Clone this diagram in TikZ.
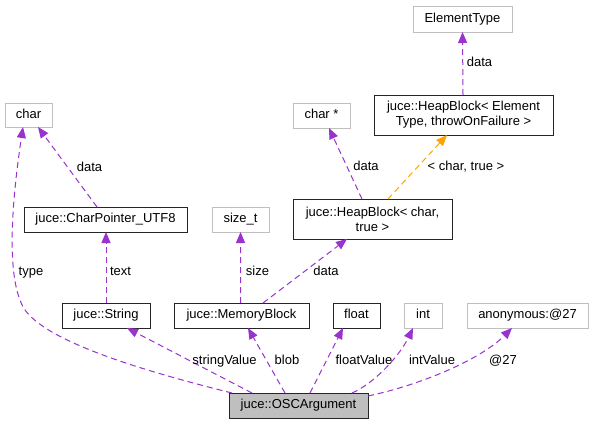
\documentclass[tikz,border=0pt]{standalone}
\usepackage{fontspec}
\setmainfont{Liberation Sans}
\usetikzlibrary{arrows.meta}
\definecolor{edgepurple}{HTML}{9A32CD}
\definecolor{edgeorange}{HTML}{FFA500}
\definecolor{boxgray}{HTML}{BFBFBF}
\begin{document}
\begin{tikzpicture}[x=1pt,y=-1pt,
  every node/.style={font=\fontsize{13}{15}\selectfont, inner sep=0pt, outer sep=0pt},
  cls/.style={draw=black!85, line width=1pt, fill=white, text height=9.4pt, text depth=2.7pt},
  cls2/.style={draw=black!85, line width=1pt, fill=white, align=center},
  ext/.style={draw=boxgray, line width=1pt, fill=white, text height=9.4pt, text depth=2.7pt},
  cur/.style={draw=black!85, line width=1pt, fill=boxgray, text height=9.4pt, text depth=2.7pt},
  lbl/.style={text height=10.4pt, text depth=1.7pt},
  edge/.style={draw=edgepurple, line width=1pt, dash pattern=on 6pt off 4pt,
    -{Triangle[length=11pt,width=9pt,fill=edgepurple]}},
  oedge/.style={draw=edgeorange, line width=1pt, dash pattern=on 6pt off 4pt,
    -{Triangle[length=11pt,width=9pt,fill=edgeorange]}}
]
\useasboundingbox[fill=white] (0,0) rectangle (593,424);

% nodes
\node[ext, minimum width=99pt, minimum height=26pt] (ET) at (462.5,19) {ElementType};
\node[cls2, minimum width=179pt, minimum height=40pt] (HBET) at (463.5,115) {juce::HeapBlock< Element\\Type, throwOnFailure >};
\node[ext, minimum width=57pt, minimum height=25pt] (charstar) at (321.5,115.5) {char *};
\node[cls2, minimum width=159pt, minimum height=40pt] (HBC) at (372.5,219) {juce::HeapBlock< char,\\true >};
\node[ext, minimum width=47pt, minimum height=24pt] (char) at (28.5,115) {char};
\node[cls, minimum width=163pt, minimum height=25pt] (CP) at (105.5,219.5) {juce::CharPointer\_UTF8};
\node[ext, minimum width=57pt, minimum height=25pt] (sizet) at (240.5,219.5) {size\_t};
\node[cls, minimum width=88pt, minimum height=25pt] (String) at (106,315.5) {juce::String};
\node[cls, minimum width=135pt, minimum height=25pt] (MB) at (241.5,315.5) {juce::MemoryBlock};
\node[cls, minimum width=47pt, minimum height=25pt] (float) at (356.5,315.5) {float};
\node[ext, minimum width=38pt, minimum height=25pt] (int) at (423,315.5) {int};
\node[ext, minimum width=121pt, minimum height=25pt] (anon) at (527.5,315.5) {anonymous:@27};
\node[cur, minimum width=139pt, minimum height=25pt] (OSC) at (298.5,405.5) {juce::OSCArgument};

% edges
\draw[edge] ([xshift=-66.5pt]OSC.north) .. controls (160,375) and (50,345) .. (25,310)
  .. controls (5,280) and (12,200) .. ([xshift=-5.5pt]char.south);
\draw[edge] ([xshift=-46.5pt]OSC.north) -- ([xshift=21pt]String.south);
\draw[edge] ([xshift=-13.5pt]OSC.north) -- ([xshift=6.5pt]MB.south);
\draw[edge] ([xshift=11.5pt]OSC.north) -- ([xshift=-13.5pt]float.south);
\draw[edge] ([xshift=53.5pt]OSC.north) .. controls (375,383) and (400,355) .. ([xshift=-10pt]int.south);
\draw[edge] ([yshift=-3pt]OSC.north east) .. controls (420,385) and (480,360) .. ([xshift=-15.5pt]anon.south);
\draw[edge] (String.north) -- ([xshift=0.5pt]CP.south);
\draw[edge] ([xshift=-8.5pt]CP.north) -- ([xshift=9.5pt]char.south);
\draw[edge] ([xshift=-0.8pt]MB.north) -- (sizet.south);
\draw[edge] ([xshift=21.5pt]MB.north) -- ([xshift=-25.5pt]HBC.south);
\draw[edge] ([xshift=-10.5pt]HBC.north) -- ([xshift=7.5pt]charstar.south);
\draw[oedge] ([xshift=15.5pt]HBC.north) -- ([xshift=-16.5pt]HBET.south);
\draw[edge] ([xshift=-0.5pt]HBET.north) -- (ET.south);

% labels
\node[lbl] (l1) at (479.5,62) {data};
\node[lbl] (l2) at (366,166) {data};
\node[lbl] (l3) at (466,166) {< char, true >};
\node[lbl] (l4) at (89.5,167) {data};
\node[lbl] (l5) at (31,271) {type};
\node[lbl] (l6) at (120.5,271) {text};
\node[lbl] (l7) at (257.5,271) {size};
\node[lbl] (l8) at (326,271) {data};
\node[lbl] (l9) at (224.5,360) {stringValue};
\node[lbl] (l10) at (287,360) {blob};
\node[lbl] (l11) at (364,360) {floatValue};
\node[lbl] (l12) at (432,360) {intValue};
\node[lbl] (l13) at (503,360) {@27};
\end{tikzpicture}
\end{document}
